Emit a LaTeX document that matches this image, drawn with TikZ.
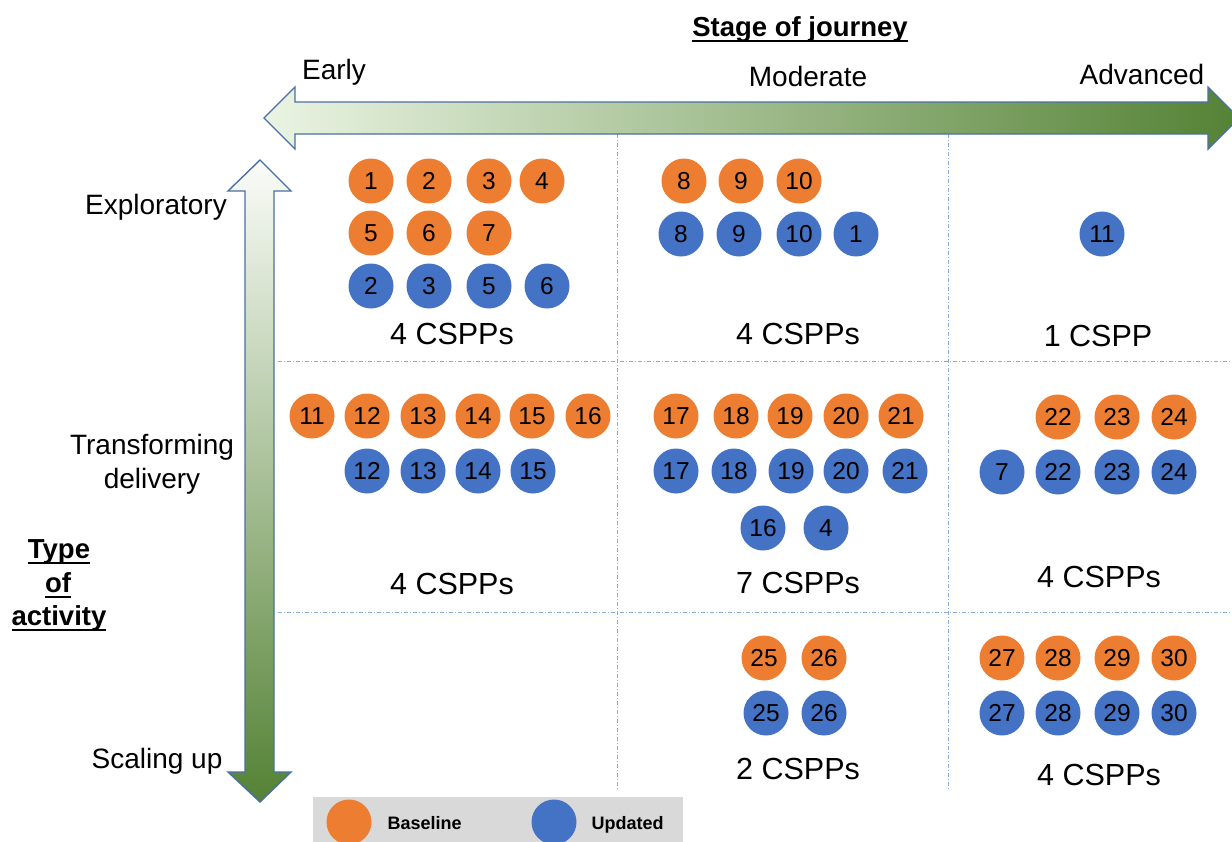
\documentclass[tikz,border=0pt]{standalone}
\usepackage{fontspec}
\setmainfont{Liberation Sans}
\definecolor{baseC}{HTML}{ED7D31}
\definecolor{updC}{HTML}{4472C4}
\definecolor{edgeC}{HTML}{4A6FA5}
\definecolor{gridC}{HTML}{8FAADC}
\definecolor{keyC}{HTML}{D9D9D9}
\definecolor{paleG}{HTML}{EAF4E3}
\definecolor{midG}{HTML}{C5E0B4}
\definecolor{darkG}{HTML}{548235}
\definecolor{topG}{HTML}{FAFCF8}
\newcommand\boldul[1]{\setbox0\hbox{\bfseries #1}\rlap{\rule[-6pt]{\wd0}{2.4pt}}\box0}
\begin{document}
\begin{tikzpicture}[x=1pt,y=-1pt,
  dot/.style={circle,minimum size=45pt,inner sep=0pt,font=\fontsize{24.5}{24.5}\selectfont},
  basedot/.style={dot,fill=baseC},
  upddot/.style={dot,fill=updC},
  axlabel/.style={font=\fontsize{28}{33.5}\selectfont,anchor=base},
  count/.style={font=\fontsize{30.5}{30}\selectfont,anchor=base},
  title/.style={font=\fontsize{27.5}{33.5}\selectfont,anchor=base,align=center},
  grid line/.style={gridC,line width=1pt,dash pattern=on 4pt off 2pt on 1pt off 2pt},
  block arrow/.style={draw=edgeC,line width=1.4pt,line join=miter}
]
\useasboundingbox (0,0) rectangle (1232,841);
\clip (0,0) rectangle (1232,841);

% cell separators
\draw[grid line] (278,361) -- (1232,361);
\draw[grid line] (278,612) -- (1232,612);
\draw[grid line] (617,134) -- (617,790);
\draw[grid line] (948,134) -- (948,790);

% horizontal two-headed arrow: stage of journey
\path[block arrow,left color=paleG,middle color=midG,right color=darkG]
  (264,118) -- (295,87) -- (295,102) -- (1208,102) -- (1208,87) -- (1239,118)
  -- (1208,149) -- (1208,134) -- (295,134) -- (295,149) -- cycle;

% vertical two-headed arrow: type of activity
\path[block arrow,top color=topG,middle color=midG!85!topG,bottom color=darkG]
  (260,160) -- (291,191) -- (274,191) -- (274,772) -- (291,772) -- (260,802)
  -- (228,772) -- (245,772) -- (245,191) -- (228,191) -- cycle;

% axis titles
\node[title] (stage) at (800,36) {\boldul{Stage of journey}};
\node[title] (type) at (59,558) {\boldul{Type}};
\node[title] (of) at (58,592) {\boldul{of}};
\node[title] (activity) at (59,625) {\boldul{activity}};

% axis labels
\node[axlabel] (early) at (334,79) {Early};
\node[axlabel] (moderate) at (808,86) {Moderate};
\node[axlabel] (advanced) at (1142,84) {Advanced};
\node[axlabel] (explor) at (156,214) {Exploratory};
\node[axlabel] (transf) at (152,454) {Transforming};
\node[axlabel] (deliv) at (152,488) {delivery};
\node[axlabel] (scal) at (157,768) {Scaling up};

% early / exploratory
\foreach \x/\y/\t [count=\i] in {371/181/1,429/181/2,489/181/3,542/181/4,371/233/5,429/233/6,489/233/7}
  \node[basedot] (ee-b\i) at (\x,\y) {\t};
\foreach \x/\y/\t [count=\i] in {371/286/2,429/286/3,489/286/5,547/286/6}
  \node[upddot] (ee-u\i) at (\x,\y) {\t};
\node[count] (ee-n) at (452,344) {4 CSPPs};

% moderate / exploratory
\foreach \x/\y/\t [count=\i] in {684/181/8,741/181/9,799/181/10}
  \node[basedot] (me-b\i) at (\x,\y) {\t};
\foreach \x/\y/\t [count=\i] in {681/234/8,739/234/9,799/234/10,856/234/1}
  \node[upddot] (me-u\i) at (\x,\y) {\t};
\node[count] (me-n) at (798,344) {4 CSPPs};

% advanced / exploratory
\node[upddot] (ae-u1) at (1102,234) {11};
\node[count] (ae-n) at (1098,346) {1 CSPP};

% early / transforming delivery
\foreach \x/\y/\t [count=\i] in {312/416/11,367/416/12,423/416/13,478/416/14,532/416/15,588/416/16}
  \node[basedot] (et-b\i) at (\x,\y) {\t};
\foreach \x/\y/\t [count=\i] in {367/471/12,423/471/13,478/471/14,533/471/15}
  \node[upddot] (et-u\i) at (\x,\y) {\t};
\node[count] (et-n) at (452,594) {4 CSPPs};

% moderate / transforming delivery
\foreach \x/\y/\t [count=\i] in {676/416/17,736/416/18,790/416/19,846/416/20,901/416/21}
  \node[basedot] (mt-b\i) at (\x,\y) {\t};
\foreach \x/\y/\t [count=\i] in {676/471/17,734/471/18,791/471/19,846/471/20,905/471/21,763/528/16,826/528/4}
  \node[upddot] (mt-u\i) at (\x,\y) {\t};
\node[count] (mt-n) at (798,593) {7 CSPPs};

% advanced / transforming delivery
\foreach \x/\y/\t [count=\i] in {1058/417/22,1117/417/23,1174/417/24}
  \node[basedot] (at-b\i) at (\x,\y) {\t};
\foreach \x/\y/\t [count=\i] in {1002/472/7,1058/472/22,1117/472/23,1174/472/24}
  \node[upddot] (at-u\i) at (\x,\y) {\t};
\node[count] (at-n) at (1099,587) {4 CSPPs};

% moderate / scaling up
\foreach \x/\y/\t [count=\i] in {764/658/25,824/658/26}
  \node[basedot] (ms-b\i) at (\x,\y) {\t};
\foreach \x/\y/\t [count=\i] in {766/713/25,824/713/26}
  \node[upddot] (ms-u\i) at (\x,\y) {\t};
\node[count] (ms-n) at (798,779) {2 CSPPs};

% advanced / scaling up
\foreach \x/\y/\t [count=\i] in {1002/658/27,1058/658/28,1117/658/29,1174/658/30}
  \node[basedot] (as-b\i) at (\x,\y) {\t};
\foreach \x/\y/\t [count=\i] in {1002/713/27,1058/713/28,1117/713/29,1174/713/30}
  \node[upddot] (as-u\i) at (\x,\y) {\t};
\node[count] (as-n) at (1099,785) {4 CSPPs};

% key
\fill[keyC] (313,797) rectangle (683,845);
\node[basedot] (key-b) at (349,822) {};
\node[upddot] (key-u) at (554,822) {};
\node[font=\fontsize{18}{18}\selectfont\bfseries,anchor=base west] (key-bt) at (384,829) {Baseline};
\node[font=\fontsize{18}{18}\selectfont\bfseries,anchor=base west] (key-ut) at (588,829) {Updated};
\end{tikzpicture}
\end{document}
